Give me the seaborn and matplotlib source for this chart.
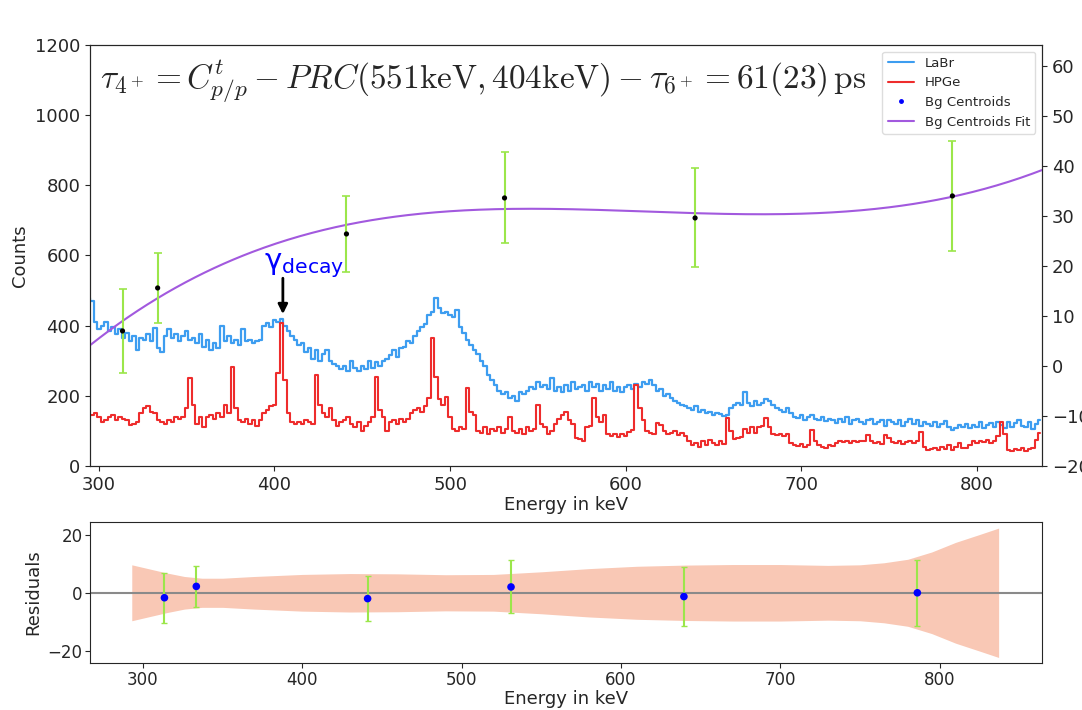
import numpy as np
import matplotlib
matplotlib.use('Agg')
import matplotlib.pyplot as plt
import seaborn as sns
from matplotlib.lines import Line2D

sns.set_style('ticks')
plt.rcParams['font.family'] = ['DejaVu Sans']
plt.rcParams['mathtext.fontset'] = 'cm'

# ---------------- data ----------------
bin_start, bin_width = 294, 2   # bin centres in keV

labr = [
    480, 470, 410, 390, 400, 410, 385, 395, 375, 390,   # 294-312
    365, 380, 355, 370, 330, 365, 360, 375, 355, 392,   # 314-332
    335, 325, 370, 390, 365, 375, 355, 370, 385, 360,   # 334-352
    365, 350, 375, 340, 360, 330, 350, 335, 400, 355,   # 354-372
    370, 350, 360, 345, 390, 355, 360, 350, 355, 360,   # 374-392
    400, 408, 395, 415, 410, 420, 400, 385, 370, 360,   # 394-412
    345, 350, 325, 335, 305, 330, 300, 320, 330, 300,   # 414-432
    290, 285, 275, 285, 270, 300, 280, 270, 285, 275,   # 434-452
    300, 280, 295, 285, 300, 305, 315, 330, 310, 335,   # 454-472
    340, 355, 350, 370, 385, 395, 405, 430, 440, 478,   # 474-492
    450, 435, 440, 430, 425, 445, 395, 380, 360, 345,   # 494-512
    330, 320, 300, 285, 260, 245, 230, 215, 205, 210,   # 514-532
    195, 200, 185, 210, 205, 215, 225, 220, 240, 225,   # 534-552
    230, 220, 250, 215, 225, 210, 230, 215, 240, 220,   # 554-572
    225, 230, 215, 240, 225, 235, 215, 230, 220, 240,   # 574-592
    215, 225, 210, 225, 230, 220, 235, 225, 240, 235,   # 594-612
    245, 230, 215, 220, 200, 205, 195, 185, 180, 175,   # 614-632
    170, 165, 160, 170, 155, 160, 150, 155, 145, 150,   # 634-652
    148, 142, 145, 165, 175, 180, 175, 212, 180, 170,   # 654-672
    185, 175, 180, 190, 185, 175, 165, 160, 155, 165,   # 674-692
    150, 140, 138, 145, 132, 140, 145, 135, 130, 140,   # 694-712
    128, 135, 130, 122, 135, 125, 140, 120, 130, 135,   # 714-732
    125, 120, 130, 135, 120, 125, 130, 115, 130, 125,   # 734-752
    120, 130, 115, 125, 135, 120, 130, 115, 125, 120,   # 754-772
    115, 125, 110, 120, 128, 112, 102, 108, 118, 112,   # 774-792
    120, 108, 118, 112, 125, 108, 118, 122, 112, 125,   # 794-812
    118, 108, 125, 112, 122, 130, 115, 112, 125, 105,   # 814-832
    120, 130,                                           # 834-836
]

hpge = [
    140, 145, 150, 140, 125, 130, 140, 145, 130, 140,   # 294-312
    135, 130, 118, 120, 125, 150, 165, 170, 155, 150,   # 314-332
    130, 125, 120, 130, 125, 140, 135, 140, 165, 250,   # 334-352
    175, 120, 140, 112, 140, 145, 135, 150, 140, 175,   # 354-372
    150, 283, 165, 130, 125, 135, 120, 130, 115, 130,   # 374-392
    150, 160, 170, 175, 265, 407, 245, 150, 125, 120,   # 394-412
    125, 120, 130, 125, 120, 260, 175, 150, 140, 165,   # 414-432
    130, 115, 125, 130, 140, 120, 110, 125, 100, 115,   # 434-452
    125, 140, 255, 160, 140, 100, 125, 130, 120, 135,   # 454-472
    125, 135, 150, 160, 165, 155, 170, 195, 364, 255,   # 474-492
    190, 175, 198, 140, 105, 100, 112, 105, 221, 155,   # 494-512
    145, 100, 95, 110, 90, 105, 100, 112, 95, 105,      # 514-532
    140, 100, 95, 105, 90, 110, 100, 105, 174, 120,     # 534-552
    110, 90, 100, 120, 135, 145, 155, 130, 120, 80,     # 554-572
    78, 72, 110, 115, 193, 140, 125, 145, 90, 85,       # 574-592
    90, 82, 92, 85, 98, 103, 231, 165, 130, 100,        # 594-612
    95, 92, 122, 118, 100, 90, 95, 100, 88, 95,         # 614-632
    85, 70, 60, 65, 55, 70, 60, 75, 65, 60,             # 634-652
    70, 62, 136, 100, 78, 80, 82, 105, 95, 110,         # 654-672
    95, 110, 115, 136, 112, 90, 88, 92, 85, 90,         # 674-692
    65, 60, 58, 62, 55, 60, 103, 70, 60, 55,            # 694-712
    52, 60, 58, 65, 70, 68, 72, 65, 70, 68,             # 714-732
    70, 72, 88, 70, 65, 68, 62, 88, 80, 68,             # 734-752
    65, 70, 62, 68, 72, 65, 70, 98, 55, 45,             # 754-772
    48, 52, 45, 55, 48, 60, 45, 55, 65, 50,             # 774-792
    52, 60, 70, 65, 72, 68, 75, 65, 70, 85,             # 794-812
    126, 90, 45, 42, 48, 45, 50, 42, 48, 50,            # 814-832
    75, 93,                                             # 834-836
]

cent_e = [313.5, 333.5, 441.0, 531.0, 639.5, 786.0]
cent_y = [7.0, 15.6, 26.4, 33.6, 29.6, 34.0]
cent_err = [8.4, 7.0, 7.6, 9.1, 9.9, 11.0]

resid = [-1.7, 2.2, -2.0, 2.0, -1.3, 0.0]
resid_err = [8.5, 7.0, 7.75, 9.1, 10.0, 11.3]

band_e = [293, 304, 315, 326, 337, 350, 370, 400, 430, 460, 490, 520, 550, 580,
          610, 640, 670, 700, 730, 750, 765, 780, 795, 810, 825, 837]
band_hw = [9.6, 8.2, 6.8, 5.6, 5.0, 5.0, 5.6, 6.3, 6.6, 6.5, 6.2, 6.3, 7.2, 8.3,
           9.1, 9.5, 9.7, 9.7, 9.4, 9.6, 10.3, 11.5, 14.0, 17.3, 20.0, 22.2]

energy = bin_start + bin_width * np.arange(len(labr))

# ---------------- styling ----------------
c_labr = '#3d9df0'
c_hpge = '#ee2c2c'
c_fit = '#a259de'
c_err = '#9be64a'

fig = plt.figure(figsize=(10.82, 7.10), dpi=100)
ax = fig.add_axes([0.0832, 0.3437, 0.8798, 0.593])
axt = ax.twinx()
axr = fig.add_axes([0.0832, 0.0662, 0.8798, 0.1986])

# spectra
sns.lineplot(x=energy, y=labr, ax=ax, color=c_labr, lw=1.6, drawstyle='steps-mid')
sns.lineplot(x=energy, y=hpge, ax=ax, color=c_hpge, lw=1.5, drawstyle='steps-mid')
ax.set_xlim(295, 837)
ax.set_ylim(0, 1200)
ax.set_yticks(np.arange(0, 1201, 200))
ax.set_xticks(np.arange(300, 801, 100))
ax.set_xlabel('Energy in keV', fontsize=13, labelpad=2)
ax.set_ylabel('Counts', fontsize=13)
ax.tick_params(labelsize=13)

# centroids + fit on the right axis
coef = np.polyfit(cent_e, cent_y, 3, w=1 / np.array(cent_err))
xx = np.linspace(295, 837, 400)
sns.lineplot(x=xx, y=np.polyval(coef, xx), ax=axt, color=c_fit, lw=1.5)
axt.errorbar(cent_e, cent_y, yerr=cent_err, fmt='none', ecolor=c_err, elinewidth=1.5, capsize=3, capthick=1.2)
sns.scatterplot(x=cent_e, y=cent_y, ax=axt, color='black', s=14, edgecolor='none', zorder=5)
axt.set_ylim(-20, 64.2)
axt.set_yticks(np.arange(-20, 61, 10))
axt.tick_params(labelsize=13)

# annotations
ax.text(0.011, 0.912,
        r'$\tau_{4^+} = C^{t}_{p/p} - PRC(551\mathrm{keV}, 404\mathrm{keV}) - \tau_{6^+} = 61(23)\,\mathrm{ps}$',
        transform=ax.transAxes, fontsize=24, va='center', ha='left', zorder=10)
ax.text(394.0, 560, r'$\mathrm{\gamma}_{\mathrm{decay}}$', color='blue', fontsize=21,
        math_fontfamily='dejavusans', va='baseline', ha='left')
ax.annotate('', xy=(404.8, 425), xytext=(404.8, 543),
            arrowprops=dict(arrowstyle='-|>', color='black', lw=2, mutation_scale=14))

handles = [Line2D([], [], color=c_labr, lw=1.5),
           Line2D([], [], color=c_hpge, lw=1.5),
           Line2D([], [], color='blue', marker='.', ls='none', markersize=5),
           Line2D([], [], color=c_fit, lw=1.5)]
axt.legend(handles, ['LaBr', 'HPGe', 'Bg Centroids', 'Bg Centroids Fit'],
           loc='upper right', fontsize=9.5, frameon=True, framealpha=1, edgecolor='#dddddd')

# residual panel
axr.fill_between(band_e, -np.array(band_hw), np.array(band_hw), color='#f9c8b5', lw=0)
axr.axhline(0, color='#8a8a8a', lw=1.5)
axr.errorbar(cent_e, resid, yerr=resid_err, fmt='none', ecolor=c_err, elinewidth=1.5, capsize=2, capthick=1)
sns.scatterplot(x=cent_e, y=resid, ax=axr, color='blue', s=30, edgecolor='none', zorder=5)
axr.set_xlim(266.8, 864.2)
axr.set_ylim(-24.1, 24.3)
axr.set_yticks([-20, 0, 20])
axr.set_xticks(np.arange(300, 801, 100))
axr.set_xlabel('Energy in keV', fontsize=13, labelpad=1)
axr.set_ylabel('Residuals', fontsize=13)
axr.tick_params(labelsize=12, pad=2)

fig.savefig('out.png', dpi=100)
